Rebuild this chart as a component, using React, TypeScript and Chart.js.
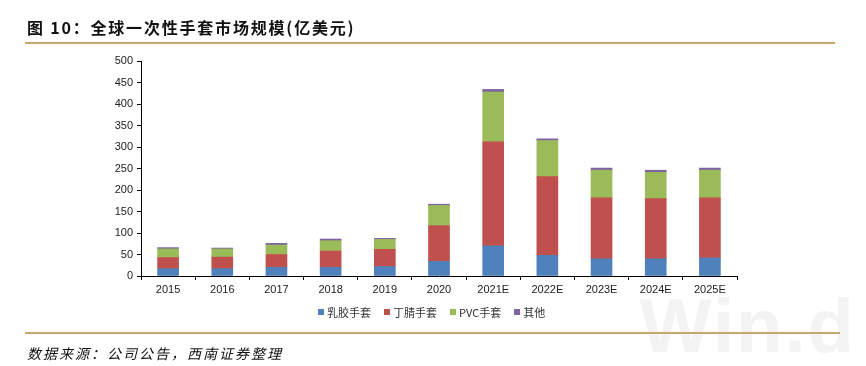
import React, { useEffect, useRef } from "react";
import { Chart, registerables } from "chart.js";

Chart.register(...registerables);

const categories = ["2015", "2016", "2017", "2018", "2019", "2020", "2021E", "2022E", "2023E", "2024E", "2025E"];
const latexGloves = [17, 17, 20, 20, 22, 34, 70, 48, 40, 40, 42];
const nitrileGloves = [26, 27, 30, 38, 40, 83, 242, 183, 142, 140, 140];
const pvcGloves = [20, 19, 22, 24, 23, 47, 116, 84, 64, 61, 64];
const otherGloves = [3, 2, 4, 4, 2.5, 3, 6, 4, 5, 5, 5];
const seriesNames = ["乳胶手套", "丁腈手套", "PVC手套", "其他"];
const seriesColors = ["#4F81BD", "#C0504D", "#9BBB59", "#8064A2"];
const yTicks = [0, 50, 100, 150, 200, 250, 300, 350, 400, 450, 500];

const titleText = "图 10：全球一次性手套市场规模(亿美元)";
const sourceText = "数据来源：公司公告，西南证券整理";

export default function App() {
  const canvasRef = useRef<HTMLCanvasElement | null>(null);

  useEffect(() => {
    document.body.style.margin = "0";
    const ctx = canvasRef.current!.getContext("2d")!;
    const values = [latexGloves, nitrileGloves, pvcGloves, otherGloves];
    const chart = new Chart(ctx, {
      type: "bar",
      data: {
        labels: categories,
        datasets: values.map((v, i) => ({
          label: seriesNames[i],
          data: v,
          backgroundColor: seriesColors[i],
          borderWidth: 0,
          barThickness: 21,
          stack: "s",
        })),
      },
      options: {
        animation: false,
        responsive: false,
        maintainAspectRatio: false,
        layout: { padding: { left: 105, right: 129, top: 61, bottom: 70 } },
        plugins: { legend: { display: false }, tooltip: { enabled: false }, title: { display: false } },
        scales: {
          x: {
            stacked: true,
            offset: true,
            grid: { display: true, drawOnChartArea: false, drawTicks: true, tickLength: 4, color: "#000", offset: true },
            border: { display: true, color: "#000", width: 1 },
            ticks: { color: "#222", font: { family: "'Liberation Sans', Arial, sans-serif", size: 11 }, padding: 3, maxRotation: 0, autoSkip: false },
            afterFit: (s: any) => { s.height = 20; },
          },
          y: {
            stacked: true,
            min: 0,
            max: 500,
            afterBuildTicks: (s: any) => { s.ticks = yTicks.map((v) => ({ value: v })); },
            grid: { display: true, drawOnChartArea: false, drawTicks: true, tickLength: 4, color: "#000" },
            border: { display: true, color: "#000", width: 1 },
            ticks: { color: "#222", font: { family: "'Liberation Sans', Arial, sans-serif", size: 11 }, padding: 4 },
            afterFit: (s: any) => { s.width = 36; },
          },
        },
      },
    });
    return () => chart.destroy();
  }, []);

  return (
    <div style={{ position: "relative", width: 866, height: 366, background: "#fff", overflow: "hidden", fontFamily: "'Noto Sans CJK SC', sans-serif" }}>
      <div style={{ position: "absolute", right: 10, top: 282, fontFamily: "'Liberation Sans', Arial, sans-serif", fontSize: 76, fontWeight: 700, color: "#f3f3f3", letterSpacing: 2 }}>Win.d</div>
      <canvas ref={canvasRef} width={866} height={366} style={{ position: "absolute", left: 0, top: 0 }} />
      <div style={{ position: "absolute", left: 27, top: 16, fontSize: 16, fontWeight: 700, color: "#111", whiteSpace: "nowrap", lineHeight: "22px", letterSpacing: 1.8 }}>{titleText}</div>
      <div style={{ position: "absolute", left: 25, top: 42, width: 810, height: 2, background: "#C8A86A" }} />
      <div style={{ position: "absolute", left: 318, top: 304, display: "flex", alignItems: "center", fontSize: 11, color: "#333", whiteSpace: "nowrap", lineHeight: "16px" }}>
        {seriesNames.map((n, i) => (
          <div key={n} style={{ display: "flex", alignItems: "center", marginRight: 13 }}>
            <span style={{ display: "inline-block", width: 6, height: 6, background: seriesColors[i], marginRight: 3 }} />
            <span>{n}</span>
          </div>
        ))}
      </div>
      <div style={{ position: "absolute", left: 25, top: 332, width: 815, height: 2, background: "#C8A86A" }} />
      <div style={{ position: "absolute", left: 27, top: 343, fontSize: 14, fontStyle: "italic", color: "#111", whiteSpace: "nowrap", lineHeight: "20px", letterSpacing: 2 }}>{sourceText}</div>
    </div>
  );
}
